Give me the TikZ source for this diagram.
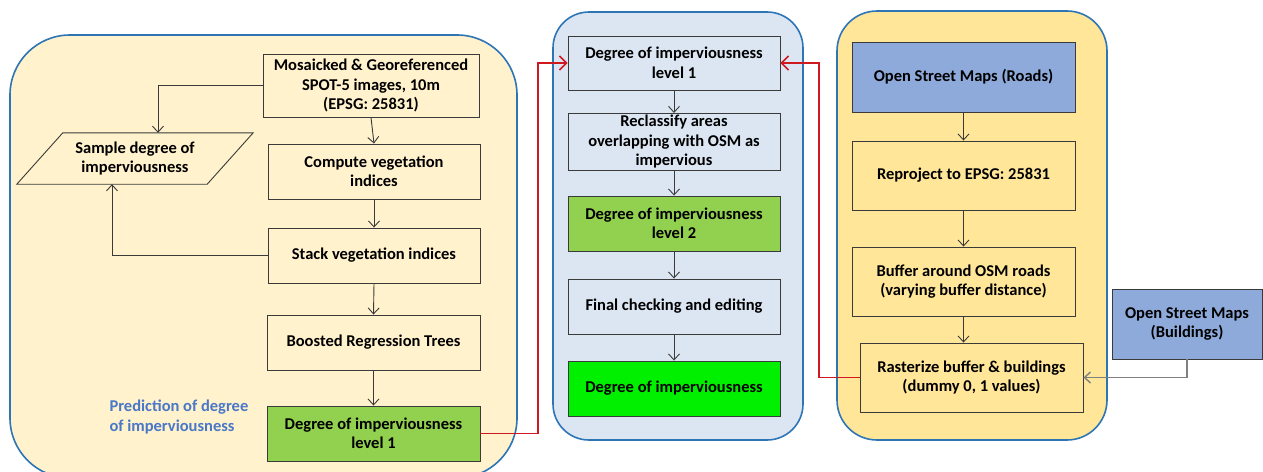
\documentclass[tikz,border=0pt]{standalone}
\usepackage{fontspec}
\setmainfont{Carlito}
\usetikzlibrary{arrows.meta}

\definecolor{panelline}{HTML}{2E75B6}
\definecolor{creamfill}{HTML}{FFF2CC}
\definecolor{bluefill}{HTML}{DCE6F2}
\definecolor{goldfill}{HTML}{FFE699}
\definecolor{osmblue}{HTML}{8EAADB}
\definecolor{levelgreen}{HTML}{92D050}
\definecolor{finalgreen}{HTML}{00F000}
\definecolor{linkred}{HTML}{D01820}
\definecolor{labelblue}{HTML}{4A78C8}
\definecolor{edgegray}{HTML}{3A3A3A}

\tikzset{
  panel/.style={draw=panelline, line width=1.6pt},
  boxfont/.style={font=\fontsize{16.5}{19.5}\selectfont\bfseries},
  stepbox/.style={rectangle, draw=edgegray, line width=0.9pt, align=center,
    inner sep=2pt, boxfont},
  leftbox/.style={stepbox, fill=creamfill},
  midbox/.style={stepbox, fill=bluefill},
  rightbox/.style={stepbox, fill=goldfill},
  osmbox/.style={stepbox, fill=osmblue},
  flow/.style={draw=edgegray, line width=0.9pt, -{Straight Barb[length=6pt,width=11pt]}},
  graylink/.style={draw=gray, line width=1.4pt, -{Straight Barb[length=6pt,width=11pt]}},
  redlink/.style={draw=linkred, line width=1.6pt, -{Straight Barb[length=7pt,width=14pt,line width=1.6pt]}},
}

\begin{document}
\begin{tikzpicture}[x=1pt, y=-1pt]
\useasboundingbox (0,0) rectangle (1263,471);
\fill[white] (0,0) rectangle (1263,471);

% three process groups
\draw[panel, fill=creamfill, rounded corners=60pt] (10,35) rectangle (517,478);
\draw[panel, fill=bluefill, rounded corners=36pt] (553,12) rectangle (803,440);
\draw[panel, fill=goldfill, rounded corners=40pt] (837,11) rectangle (1107,440);

% prediction chain
\node[leftbox, minimum width=216pt, minimum height=63pt] (mos) at (371,85.5)
  {Mosaicked \& Georeferenced\\SPOT-5 images, 10m\\(EPSG: 25831)};
\node[leftbox, minimum width=212pt, minimum height=55pt] (comp) at (374,171.5)
  {Compute vegetation\\indices};
\node[leftbox, minimum width=212pt, minimum height=55pt] (stack) at (374,255.5)
  {Stack vegetation indices};
\node[leftbox, minimum width=213pt, minimum height=55pt] (brt) at (373.5,342.5)
  {Boosted Regression Trees};
\node[stepbox, fill=levelgreen, minimum width=213pt, minimum height=55pt] (lvl) at (373.5,433.5)
  {Degree of imperviousness\\level 1};

% data input: slanted box around the sample label
\node[rectangle, inner sep=0pt, minimum width=190pt, minimum height=51pt] (samp) at (135,158.5) {};
\draw[draw=edgegray, line width=0.9pt, fill=creamfill]
  ([xshift=23pt]samp.north west) -- ([xshift=23pt]samp.north east)
  -- ([xshift=-23pt]samp.south east) -- ([xshift=-23pt]samp.south west) -- cycle;
\node[rectangle, inner sep=0pt, align=center, boxfont] (samplabel) at (samp.center)
  {Sample degree of\\imperviousness};
\coordinate (samptop) at ([xshift=23pt]samp.north);
\coordinate (sampbot) at ([xshift=-23pt]samp.south);

\node[anchor=west, align=left, text=labelblue, boxfont] (cap) at (106,417)
  {Prediction of degree\\of imperviousness};

\draw[flow] (mos.south) -- (comp.north);
\draw[flow] (comp.south) -- (stack.north);
\draw[flow] (stack.south) -- (brt.north);
\draw[flow] (brt.south) -- (lvl.north);
\draw[flow] (mos.west) -| (samptop);
\draw[flow] (stack.west) -| (sampbot);

% refinement chain
\node[midbox, minimum width=212pt, minimum height=54pt] (m1) at (674,63)
  {Degree of imperviousness\\level 1};
\node[midbox, minimum width=212pt, minimum height=54pt] (m2) at (674,142)
  {Reclassify areas\\overlapping with OSM as\\impervious};
\node[stepbox, fill=levelgreen, minimum width=212pt, minimum height=55pt] (m3) at (674,223.5)
  {Degree of imperviousness\\level 2};
\node[midbox, minimum width=212pt, minimum height=55pt] (m4) at (674,306.5)
  {Final checking and editing};
\node[stepbox, fill=finalgreen, minimum width=212pt, minimum height=55pt] (m5) at (674,388.5)
  {Degree of imperviousness};

\draw[flow] (m1.south) -- (m2.north);
\draw[flow] (m2.south) -- (m3.north);
\draw[flow] (m3.south) -- (m4.north);
\draw[flow] (m4.south) -- (m5.north);

% OSM chain
\node[osmbox, minimum width=223pt, minimum height=70pt] (r1) at (963.5,77)
  {Open Street Maps (Roads)};
\node[rightbox, minimum width=223pt, minimum height=69pt] (r2) at (963.5,175.5)
  {Reproject to EPSG: 25831};
\node[rightbox, minimum width=223pt, minimum height=69pt] (r3) at (963.5,281.5)
  {Buffer around OSM roads\\(varying buffer distance)};
\node[rightbox, minimum width=223pt, minimum height=69pt] (r4) at (971.5,377.5)
  {Rasterize buffer \& buildings\\(dummy 0, 1 values)};
\node[osmbox, minimum width=150pt, minimum height=70pt] (bld) at (1187,324)
  {Open Street Maps\\(Buildings)};

\draw[flow] (r1.south) -- (r2.north);
\draw[flow] (r2.south) -- (r3.north);
\draw[flow] (r3.south) -- (r3.south |- r4.north);
\draw[graylink] (bld.south) |- (r4.east);

% links between groups
\coordinate (lj) at (538,0);
\coordinate (rj) at (819,0);
\draw[redlink] (lvl.east) -- (lvl.east -| lj) |- (m1.west);
\draw[redlink] (r4.west) -- (r4.west -| rj) |- (m1.east);
\end{tikzpicture}
\end{document}
